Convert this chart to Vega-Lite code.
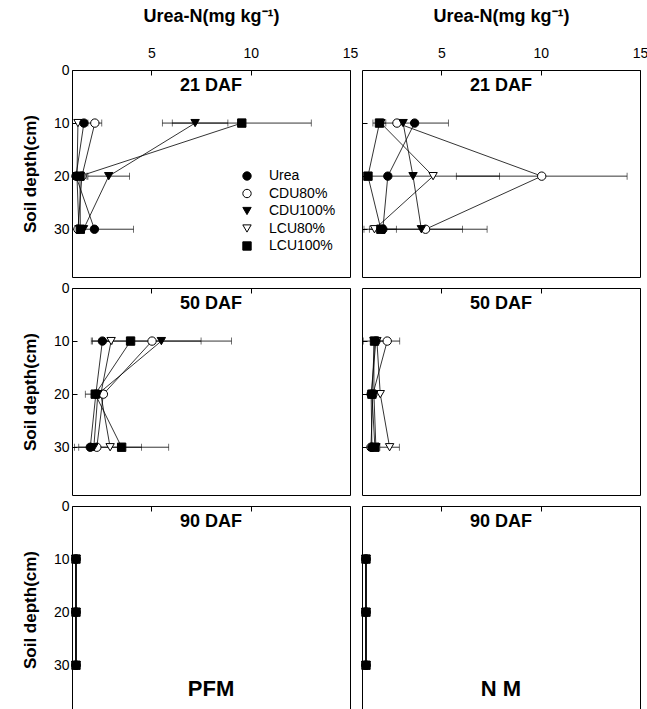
{
 "$schema": "https://vega.github.io/schema/vega-lite/v6.json",
 "padding": {"left": 20, "top": 6, "right": 0, "bottom": 0},
 "config": {
  "font": "Liberation Sans",
  "view": {"stroke": "black", "strokeWidth": 1},
  "axis": {"grid": false, "domain": false, "tickColor": "black", "tickSize": -5, "labelFontSize": 14, "labelColor": "black", "titleFontSize": 17, "titleFontWeight": "bold", "titleColor": "black", "labelFlush": false, "labelOverlap": false},
  "legend": {"labelFontSize": 14, "labelColor": "black", "symbolSize": 70, "rowPadding": 3.5, "labelOffset": 15, "symbolStrokeColor": "black", "symbolStrokeWidth": 1}
 },
 "datasets": {
  "d": [
   {"s":"PFM","d":21,"t":"LCU80%","depth":10,"v":1.3},
   {"s":"PFM","d":21,"t":"LCU80%","depth":20,"v":1.25},
   {"s":"PFM","d":21,"t":"LCU80%","depth":30,"v":1.35},
   {"s":"PFM","d":21,"t":"CDU80%","depth":10,"v":2.15,"lo":1.8,"hi":2.5},
   {"s":"PFM","d":21,"t":"CDU80%","depth":20,"v":1.5,"lo":1.3,"hi":1.75},
   {"s":"PFM","d":21,"t":"CDU80%","depth":30,"v":1.3},
   {"s":"PFM","d":21,"t":"CDU100%","depth":10,"v":7.2,"lo":5.55,"hi":8.85},
   {"s":"PFM","d":21,"t":"CDU100%","depth":20,"v":2.85,"lo":1.8,"hi":3.9},
   {"s":"PFM","d":21,"t":"CDU100%","depth":30,"v":1.58},
   {"s":"PFM","d":21,"t":"Urea","depth":10,"v":1.6},
   {"s":"PFM","d":21,"t":"Urea","depth":20,"v":1.2},
   {"s":"PFM","d":21,"t":"Urea","depth":30,"v":2.13,"lo":0.2,"hi":4.1},
   {"s":"PFM","d":21,"t":"LCU100%","depth":10,"v":9.55,"lo":6.05,"hi":13.05},
   {"s":"PFM","d":21,"t":"LCU100%","depth":20,"v":1.4},
   {"s":"PFM","d":21,"t":"LCU100%","depth":30,"v":1.42},

   {"s":"NM","d":21,"t":"LCU80%","depth":10,"v":1.95},
   {"s":"NM","d":21,"t":"LCU80%","depth":20,"v":4.58,"lo":1.23,"hi":7.93},
   {"s":"NM","d":21,"t":"LCU80%","depth":30,"v":1.63},
   {"s":"NM","d":21,"t":"CDU80%","depth":10,"v":2.76},
   {"s":"NM","d":21,"t":"CDU80%","depth":20,"v":10.05,"lo":5.75,"hi":14.35},
   {"s":"NM","d":21,"t":"CDU80%","depth":30,"v":4.2,"lo":1.1,"hi":7.3},
   {"s":"NM","d":21,"t":"CDU100%","depth":10,"v":3.07},
   {"s":"NM","d":21,"t":"CDU100%","depth":20,"v":3.57},
   {"s":"NM","d":21,"t":"CDU100%","depth":30,"v":3.99,"lo":1.92,"hi":6.06},
   {"s":"NM","d":21,"t":"Urea","depth":10,"v":3.65,"lo":1.95,"hi":5.35},
   {"s":"NM","d":21,"t":"Urea","depth":20,"v":2.3},
   {"s":"NM","d":21,"t":"Urea","depth":30,"v":2.05,"lo":1.37,"hi":2.73},
   {"s":"NM","d":21,"t":"LCU100%","depth":10,"v":1.88,"lo":1.55,"hi":2.2},
   {"s":"NM","d":21,"t":"LCU100%","depth":20,"v":1.3},
   {"s":"NM","d":21,"t":"LCU100%","depth":30,"v":1.95},

   {"s":"PFM","d":50,"t":"LCU80%","depth":10,"v":2.97},
   {"s":"PFM","d":50,"t":"LCU80%","depth":20,"v":2.45},
   {"s":"PFM","d":50,"t":"LCU80%","depth":30,"v":2.92,"lo":1.34,"hi":4.5},
   {"s":"PFM","d":50,"t":"CDU80%","depth":10,"v":5.03,"lo":2.56,"hi":7.5},
   {"s":"PFM","d":50,"t":"CDU80%","depth":20,"v":2.58},
   {"s":"PFM","d":50,"t":"CDU80%","depth":30,"v":2.25},
   {"s":"PFM","d":50,"t":"CDU100%","depth":10,"v":5.5,"lo":1.97,"hi":9.03},
   {"s":"PFM","d":50,"t":"CDU100%","depth":20,"v":2.3},
   {"s":"PFM","d":50,"t":"CDU100%","depth":30,"v":2.1},
   {"s":"PFM","d":50,"t":"Urea","depth":10,"v":2.53,"lo":2.03,"hi":3.03},
   {"s":"PFM","d":50,"t":"Urea","depth":20,"v":2.2},
   {"s":"PFM","d":50,"t":"Urea","depth":30,"v":1.92},
   {"s":"PFM","d":50,"t":"LCU100%","depth":10,"v":3.95},
   {"s":"PFM","d":50,"t":"LCU100%","depth":20,"v":2.17,"lo":1.67,"hi":2.67},
   {"s":"PFM","d":50,"t":"LCU100%","depth":30,"v":3.5,"lo":1.13,"hi":5.87},

   {"s":"NM","d":50,"t":"LCU80%","depth":10,"v":1.75},
   {"s":"NM","d":50,"t":"LCU80%","depth":20,"v":1.92},
   {"s":"NM","d":50,"t":"LCU80%","depth":30,"v":2.39,"lo":1.9,"hi":2.88},
   {"s":"NM","d":50,"t":"CDU80%","depth":10,"v":2.27,"lo":1.64,"hi":2.9},
   {"s":"NM","d":50,"t":"CDU80%","depth":20,"v":1.55},
   {"s":"NM","d":50,"t":"CDU80%","depth":30,"v":1.45},
   {"s":"NM","d":50,"t":"CDU100%","depth":10,"v":1.6},
   {"s":"NM","d":50,"t":"CDU100%","depth":20,"v":1.6},
   {"s":"NM","d":50,"t":"CDU100%","depth":30,"v":1.7},
   {"s":"NM","d":50,"t":"Urea","depth":10,"v":1.7},
   {"s":"NM","d":50,"t":"Urea","depth":20,"v":1.46},
   {"s":"NM","d":50,"t":"Urea","depth":30,"v":1.5},
   {"s":"NM","d":50,"t":"LCU100%","depth":10,"v":1.63,"lo":1.06,"hi":2.2},
   {"s":"NM","d":50,"t":"LCU100%","depth":20,"v":1.5},
   {"s":"NM","d":50,"t":"LCU100%","depth":30,"v":1.65},

   {"s":"PFM","d":90,"t":"LCU80%","depth":10,"v":1.2},
   {"s":"PFM","d":90,"t":"LCU80%","depth":20,"v":1.2},
   {"s":"PFM","d":90,"t":"LCU80%","depth":30,"v":1.2},
   {"s":"PFM","d":90,"t":"CDU80%","depth":10,"v":1.2},
   {"s":"PFM","d":90,"t":"CDU80%","depth":20,"v":1.2},
   {"s":"PFM","d":90,"t":"CDU80%","depth":30,"v":1.2},
   {"s":"PFM","d":90,"t":"CDU100%","depth":10,"v":1.2},
   {"s":"PFM","d":90,"t":"CDU100%","depth":20,"v":1.2},
   {"s":"PFM","d":90,"t":"CDU100%","depth":30,"v":1.2},
   {"s":"PFM","d":90,"t":"Urea","depth":10,"v":1.2},
   {"s":"PFM","d":90,"t":"Urea","depth":20,"v":1.2},
   {"s":"PFM","d":90,"t":"Urea","depth":30,"v":1.2},
   {"s":"PFM","d":90,"t":"LCU100%","depth":10,"v":1.2},
   {"s":"PFM","d":90,"t":"LCU100%","depth":20,"v":1.2},
   {"s":"PFM","d":90,"t":"LCU100%","depth":30,"v":1.2},

   {"s":"NM","d":90,"t":"LCU80%","depth":10,"v":1.2},
   {"s":"NM","d":90,"t":"LCU80%","depth":20,"v":1.2},
   {"s":"NM","d":90,"t":"LCU80%","depth":30,"v":1.2},
   {"s":"NM","d":90,"t":"CDU80%","depth":10,"v":1.2},
   {"s":"NM","d":90,"t":"CDU80%","depth":20,"v":1.2},
   {"s":"NM","d":90,"t":"CDU80%","depth":30,"v":1.2},
   {"s":"NM","d":90,"t":"CDU100%","depth":10,"v":1.2},
   {"s":"NM","d":90,"t":"CDU100%","depth":20,"v":1.2},
   {"s":"NM","d":90,"t":"CDU100%","depth":30,"v":1.2},
   {"s":"NM","d":90,"t":"Urea","depth":10,"v":1.2},
   {"s":"NM","d":90,"t":"Urea","depth":20,"v":1.2},
   {"s":"NM","d":90,"t":"Urea","depth":30,"v":1.2},
   {"s":"NM","d":90,"t":"LCU100%","depth":10,"v":1.2},
   {"s":"NM","d":90,"t":"LCU100%","depth":20,"v":1.2},
   {"s":"NM","d":90,"t":"LCU100%","depth":30,"v":1.2}
  ],
  "labs": [
   {"s":"PFM","d":21,"lab":"21 DAF","big":""},
   {"s":"NM","d":21,"lab":"21 DAF","big":""},
   {"s":"PFM","d":50,"lab":"50 DAF","big":""},
   {"s":"NM","d":50,"lab":"50 DAF","big":""},
   {"s":"PFM","d":90,"lab":"90 DAF","big":"PFM"},
   {"s":"NM","d":90,"lab":"90 DAF","big":"N M"}
  ]
 },
 "columns": 2,
 "spacing": {"row": 2, "column": 0},
 "resolve": {"scale": {"shape": "independent", "fill": "independent", "stroke": "independent"}},
 "concat": [
  {
   "width": 278, "height": 207,
   "layer": [
    {"data": {"name": "d"}, "transform": [{"filter": "datum.s=='PFM' && datum.d==21"}], "mark": {"type": "line", "color": "black", "strokeWidth": 0.8},
     "encoding": {
      "x": {"field": "v", "type": "quantitative", "scale": {"domain": [1, 15], "nice": false, "zero": false}, "axis": {"orient": "top", "values": [5, 10, 15], "title": "Urea-N(mg kg⁻¹)", "titleFontSize": 18, "labelPadding": 15, "titlePadding": 21}},
      "y": {"field": "depth", "type": "quantitative", "scale": {"domain": [0, 39], "reverse": true, "nice": false, "zero": false}, "axis": {"values": [0, 10, 20, 30], "title": "Soil depth(cm)", "labelPadding": 8, "titlePadding": 14}},
      "detail": {"field": "t"}, "order": {"field": "depth", "type": "quantitative"}}},
    {"data": {"name": "d"}, "transform": [{"filter": "datum.s=='PFM' && datum.d==21 && isValid(datum.lo)"}], "mark": {"type": "rule", "color": "black", "strokeWidth": 0.8, "clip": true},
     "encoding": {"x": {"field": "lo", "type": "quantitative"}, "x2": {"field": "hi"}, "y": {"field": "depth", "type": "quantitative"}}},
    {"data": {"name": "d"}, "transform": [{"filter": "datum.s=='PFM' && datum.d==21 && isValid(datum.lo) && datum.lo>1"}], "mark": {"type": "tick", "orient": "vertical", "color": "black", "size": 7, "thickness": 0.8},
     "encoding": {"x": {"field": "lo", "type": "quantitative"}, "y": {"field": "depth", "type": "quantitative"}}},
    {"data": {"name": "d"}, "transform": [{"filter": "datum.s=='PFM' && datum.d==21 && isValid(datum.hi)"}], "mark": {"type": "tick", "orient": "vertical", "color": "black", "size": 7, "thickness": 0.8},
     "encoding": {"x": {"field": "hi", "type": "quantitative"}, "y": {"field": "depth", "type": "quantitative"}}},
    {"data": {"name": "d"}, "transform": [{"filter": "datum.s=='PFM' && datum.d==21"}], "mark": {"type": "point", "filled": true, "strokeWidth": 1, "size": 70, "opacity": 1},
     "encoding": {
      "x": {"field": "v", "type": "quantitative"}, "y": {"field": "depth", "type": "quantitative"},
      "shape": {"field": "t", "type": "nominal", "scale": {"domain": ["Urea", "CDU80%", "CDU100%", "LCU80%", "LCU100%"], "range": ["circle", "circle", "triangle-down", "triangle-down", "square"]}, "legend": {"title": null, "orient": "none", "legendX": 168, "legendY": 99}},
      "fill": {"field": "t", "type": "nominal", "scale": {"domain": ["Urea", "CDU80%", "CDU100%", "LCU80%", "LCU100%"], "range": ["black", "white", "black", "white", "black"]}, "legend": {"title": null, "orient": "none", "legendX": 168, "legendY": 99}},
      "stroke": {"field": "t", "type": "nominal", "scale": {"domain": ["Urea", "CDU80%", "CDU100%", "LCU80%", "LCU100%"], "range": ["black", "black", "black", "black", "black"]}, "legend": {"title": null, "orient": "none", "legendX": 168, "legendY": 99}}
     }},
    {"data": {"name": "labs"}, "transform": [{"filter": "datum.s=='PFM' && datum.d==21"}], "mark": {"type": "text", "fontSize": 18, "fontWeight": "bold", "color": "black"},
     "encoding": {"text": {"field": "lab"}, "x": {"datum": 8}, "y": {"datum": 3}}}
   ]
  },
  {
   "width": 278, "height": 207,
   "layer": [
    {"data": {"name": "d"}, "transform": [{"filter": "datum.s=='NM' && datum.d==21"}], "mark": {"type": "line", "color": "black", "strokeWidth": 0.8},
     "encoding": {
      "x": {"field": "v", "type": "quantitative", "scale": {"domain": [1, 15], "nice": false, "zero": false}, "axis": {"orient": "top", "values": [5, 10, 15], "title": "Urea-N(mg kg⁻¹)", "titleFontSize": 18, "labelPadding": 15, "titlePadding": 21}},
      "y": {"field": "depth", "type": "quantitative", "scale": {"domain": [0, 39], "reverse": true, "nice": false, "zero": false}, "axis": {"values": [10, 20, 30], "labels": false, "title": null}},
      "detail": {"field": "t"}, "order": {"field": "depth", "type": "quantitative"}}},
    {"data": {"name": "d"}, "transform": [{"filter": "datum.s=='NM' && datum.d==21 && isValid(datum.lo)"}], "mark": {"type": "rule", "color": "black", "strokeWidth": 0.8, "clip": true},
     "encoding": {"x": {"field": "lo", "type": "quantitative"}, "x2": {"field": "hi"}, "y": {"field": "depth", "type": "quantitative"}}},
    {"data": {"name": "d"}, "transform": [{"filter": "datum.s=='NM' && datum.d==21 && isValid(datum.lo) && datum.lo>1"}], "mark": {"type": "tick", "orient": "vertical", "color": "black", "size": 7, "thickness": 0.8},
     "encoding": {"x": {"field": "lo", "type": "quantitative"}, "y": {"field": "depth", "type": "quantitative"}}},
    {"data": {"name": "d"}, "transform": [{"filter": "datum.s=='NM' && datum.d==21 && isValid(datum.hi)"}], "mark": {"type": "tick", "orient": "vertical", "color": "black", "size": 7, "thickness": 0.8},
     "encoding": {"x": {"field": "hi", "type": "quantitative"}, "y": {"field": "depth", "type": "quantitative"}}},
    {"data": {"name": "d"}, "transform": [{"filter": "datum.s=='NM' && datum.d==21"}], "mark": {"type": "point", "filled": true, "stroke": "black", "strokeWidth": 1, "size": 70, "opacity": 1},
     "encoding": {
      "x": {"field": "v", "type": "quantitative"}, "y": {"field": "depth", "type": "quantitative"},
      "shape": {"field": "t", "type": "nominal", "scale": {"domain": ["Urea", "CDU80%", "CDU100%", "LCU80%", "LCU100%"], "range": ["circle", "circle", "triangle-down", "triangle-down", "square"]}, "legend": null},
      "fill": {"field": "t", "type": "nominal", "scale": {"domain": ["Urea", "CDU80%", "CDU100%", "LCU80%", "LCU100%"], "range": ["black", "white", "black", "white", "black"]}, "legend": null}
     }},
    {"data": {"name": "labs"}, "transform": [{"filter": "datum.s=='NM' && datum.d==21"}], "mark": {"type": "text", "fontSize": 18, "fontWeight": "bold", "color": "black"},
     "encoding": {"text": {"field": "lab"}, "x": {"datum": 8}, "y": {"datum": 3}}}
   ]
  },
  {
   "width": 278, "height": 207,
   "layer": [
    {"data": {"name": "d"}, "transform": [{"filter": "datum.s=='PFM' && datum.d==50"}], "mark": {"type": "line", "color": "black", "strokeWidth": 0.8},
     "encoding": {
      "x": {"field": "v", "type": "quantitative", "scale": {"domain": [1, 15], "nice": false, "zero": false}, "axis": {"orient": "top", "values": [5, 10, 15], "labels": false, "title": null}},
      "y": {"field": "depth", "type": "quantitative", "scale": {"domain": [0, 39], "reverse": true, "nice": false, "zero": false}, "axis": {"values": [0, 10, 20, 30], "title": "Soil depth(cm)", "labelPadding": 8, "titlePadding": 14}},
      "detail": {"field": "t"}, "order": {"field": "depth", "type": "quantitative"}}},
    {"data": {"name": "d"}, "transform": [{"filter": "datum.s=='PFM' && datum.d==50 && isValid(datum.lo)"}], "mark": {"type": "rule", "color": "black", "strokeWidth": 0.8, "clip": true},
     "encoding": {"x": {"field": "lo", "type": "quantitative"}, "x2": {"field": "hi"}, "y": {"field": "depth", "type": "quantitative"}}},
    {"data": {"name": "d"}, "transform": [{"filter": "datum.s=='PFM' && datum.d==50 && isValid(datum.lo) && datum.lo>1"}], "mark": {"type": "tick", "orient": "vertical", "color": "black", "size": 7, "thickness": 0.8},
     "encoding": {"x": {"field": "lo", "type": "quantitative"}, "y": {"field": "depth", "type": "quantitative"}}},
    {"data": {"name": "d"}, "transform": [{"filter": "datum.s=='PFM' && datum.d==50 && isValid(datum.hi)"}], "mark": {"type": "tick", "orient": "vertical", "color": "black", "size": 7, "thickness": 0.8},
     "encoding": {"x": {"field": "hi", "type": "quantitative"}, "y": {"field": "depth", "type": "quantitative"}}},
    {"data": {"name": "d"}, "transform": [{"filter": "datum.s=='PFM' && datum.d==50"}], "mark": {"type": "point", "filled": true, "stroke": "black", "strokeWidth": 1, "size": 70, "opacity": 1},
     "encoding": {
      "x": {"field": "v", "type": "quantitative"}, "y": {"field": "depth", "type": "quantitative"},
      "shape": {"field": "t", "type": "nominal", "scale": {"domain": ["Urea", "CDU80%", "CDU100%", "LCU80%", "LCU100%"], "range": ["circle", "circle", "triangle-down", "triangle-down", "square"]}, "legend": null},
      "fill": {"field": "t", "type": "nominal", "scale": {"domain": ["Urea", "CDU80%", "CDU100%", "LCU80%", "LCU100%"], "range": ["black", "white", "black", "white", "black"]}, "legend": null}
     }},
    {"data": {"name": "labs"}, "transform": [{"filter": "datum.s=='PFM' && datum.d==50"}], "mark": {"type": "text", "fontSize": 18, "fontWeight": "bold", "color": "black"},
     "encoding": {"text": {"field": "lab"}, "x": {"datum": 8}, "y": {"datum": 3}}}
   ]
  },
  {
   "width": 278, "height": 207,
   "layer": [
    {"data": {"name": "d"}, "transform": [{"filter": "datum.s=='NM' && datum.d==50"}], "mark": {"type": "line", "color": "black", "strokeWidth": 0.8},
     "encoding": {
      "x": {"field": "v", "type": "quantitative", "scale": {"domain": [1, 15], "nice": false, "zero": false}, "axis": {"orient": "top", "values": [5, 10, 15], "labels": false, "title": null}},
      "y": {"field": "depth", "type": "quantitative", "scale": {"domain": [0, 39], "reverse": true, "nice": false, "zero": false}, "axis": {"values": [10, 20, 30], "labels": false, "title": null}},
      "detail": {"field": "t"}, "order": {"field": "depth", "type": "quantitative"}}},
    {"data": {"name": "d"}, "transform": [{"filter": "datum.s=='NM' && datum.d==50 && isValid(datum.lo)"}], "mark": {"type": "rule", "color": "black", "strokeWidth": 0.8, "clip": true},
     "encoding": {"x": {"field": "lo", "type": "quantitative"}, "x2": {"field": "hi"}, "y": {"field": "depth", "type": "quantitative"}}},
    {"data": {"name": "d"}, "transform": [{"filter": "datum.s=='NM' && datum.d==50 && isValid(datum.lo) && datum.lo>1"}], "mark": {"type": "tick", "orient": "vertical", "color": "black", "size": 7, "thickness": 0.8},
     "encoding": {"x": {"field": "lo", "type": "quantitative"}, "y": {"field": "depth", "type": "quantitative"}}},
    {"data": {"name": "d"}, "transform": [{"filter": "datum.s=='NM' && datum.d==50 && isValid(datum.hi)"}], "mark": {"type": "tick", "orient": "vertical", "color": "black", "size": 7, "thickness": 0.8},
     "encoding": {"x": {"field": "hi", "type": "quantitative"}, "y": {"field": "depth", "type": "quantitative"}}},
    {"data": {"name": "d"}, "transform": [{"filter": "datum.s=='NM' && datum.d==50"}], "mark": {"type": "point", "filled": true, "stroke": "black", "strokeWidth": 1, "size": 70, "opacity": 1},
     "encoding": {
      "x": {"field": "v", "type": "quantitative"}, "y": {"field": "depth", "type": "quantitative"},
      "shape": {"field": "t", "type": "nominal", "scale": {"domain": ["Urea", "CDU80%", "CDU100%", "LCU80%", "LCU100%"], "range": ["circle", "circle", "triangle-down", "triangle-down", "square"]}, "legend": null},
      "fill": {"field": "t", "type": "nominal", "scale": {"domain": ["Urea", "CDU80%", "CDU100%", "LCU80%", "LCU100%"], "range": ["black", "white", "black", "white", "black"]}, "legend": null}
     }},
    {"data": {"name": "labs"}, "transform": [{"filter": "datum.s=='NM' && datum.d==50"}], "mark": {"type": "text", "fontSize": 18, "fontWeight": "bold", "color": "black"},
     "encoding": {"text": {"field": "lab"}, "x": {"datum": 8}, "y": {"datum": 3}}}
   ]
  },
  {
   "width": 278, "height": 207,
   "layer": [
    {"data": {"name": "d"}, "transform": [{"filter": "datum.s=='PFM' && datum.d==90"}], "mark": {"type": "line", "color": "black", "strokeWidth": 0.8},
     "encoding": {
      "x": {"field": "v", "type": "quantitative", "scale": {"domain": [1, 15], "nice": false, "zero": false}, "axis": {"orient": "top", "values": [5, 10, 15], "labels": false, "title": null}},
      "y": {"field": "depth", "type": "quantitative", "scale": {"domain": [0, 39], "reverse": true, "nice": false, "zero": false}, "axis": {"values": [0, 10, 20, 30], "title": "Soil depth(cm)", "labelPadding": 8, "titlePadding": 14}},
      "detail": {"field": "t"}, "order": {"field": "depth", "type": "quantitative"}}},
    {"data": {"name": "d"}, "transform": [{"filter": "datum.s=='PFM' && datum.d==90"}], "mark": {"type": "point", "filled": true, "stroke": "black", "strokeWidth": 1, "size": 70, "opacity": 1},
     "encoding": {
      "x": {"field": "v", "type": "quantitative"}, "y": {"field": "depth", "type": "quantitative"},
      "shape": {"field": "t", "type": "nominal", "scale": {"domain": ["Urea", "CDU80%", "CDU100%", "LCU80%", "LCU100%"], "range": ["circle", "circle", "triangle-down", "triangle-down", "square"]}, "legend": null},
      "fill": {"field": "t", "type": "nominal", "scale": {"domain": ["Urea", "CDU80%", "CDU100%", "LCU80%", "LCU100%"], "range": ["black", "white", "black", "white", "black"]}, "legend": null}
     }},
    {"data": {"name": "labs"}, "transform": [{"filter": "datum.s=='PFM' && datum.d==90"}], "mark": {"type": "text", "fontSize": 18, "fontWeight": "bold", "color": "black"},
     "encoding": {"text": {"field": "lab"}, "x": {"datum": 8}, "y": {"datum": 3}}},
    {"data": {"name": "labs"}, "transform": [{"filter": "datum.s=='PFM' && datum.d==90"}], "mark": {"type": "text", "fontSize": 22, "fontWeight": "bold", "color": "black"},
     "encoding": {"text": {"field": "big"}, "x": {"datum": 8}, "y": {"datum": 34.5}}}
   ]
  },
  {
   "width": 278, "height": 207,
   "layer": [
    {"data": {"name": "d"}, "transform": [{"filter": "datum.s=='NM' && datum.d==90"}], "mark": {"type": "line", "color": "black", "strokeWidth": 0.8},
     "encoding": {
      "x": {"field": "v", "type": "quantitative", "scale": {"domain": [1, 15], "nice": false, "zero": false}, "axis": {"orient": "top", "values": [5, 10, 15], "labels": false, "title": null}},
      "y": {"field": "depth", "type": "quantitative", "scale": {"domain": [0, 39], "reverse": true, "nice": false, "zero": false}, "axis": {"values": [10, 20, 30], "labels": false, "title": null}},
      "detail": {"field": "t"}, "order": {"field": "depth", "type": "quantitative"}}},
    {"data": {"name": "d"}, "transform": [{"filter": "datum.s=='NM' && datum.d==90"}], "mark": {"type": "point", "filled": true, "stroke": "black", "strokeWidth": 1, "size": 70, "opacity": 1},
     "encoding": {
      "x": {"field": "v", "type": "quantitative"}, "y": {"field": "depth", "type": "quantitative"},
      "shape": {"field": "t", "type": "nominal", "scale": {"domain": ["Urea", "CDU80%", "CDU100%", "LCU80%", "LCU100%"], "range": ["circle", "circle", "triangle-down", "triangle-down", "square"]}, "legend": null},
      "fill": {"field": "t", "type": "nominal", "scale": {"domain": ["Urea", "CDU80%", "CDU100%", "LCU80%", "LCU100%"], "range": ["black", "white", "black", "white", "black"]}, "legend": null}
     }},
    {"data": {"name": "labs"}, "transform": [{"filter": "datum.s=='NM' && datum.d==90"}], "mark": {"type": "text", "fontSize": 18, "fontWeight": "bold", "color": "black"},
     "encoding": {"text": {"field": "lab"}, "x": {"datum": 8}, "y": {"datum": 3}}},
    {"data": {"name": "labs"}, "transform": [{"filter": "datum.s=='NM' && datum.d==90"}], "mark": {"type": "text", "fontSize": 22, "fontWeight": "bold", "color": "black"},
     "encoding": {"text": {"field": "big"}, "x": {"datum": 8}, "y": {"datum": 34.5}}}
   ]
  }
 ]
}
